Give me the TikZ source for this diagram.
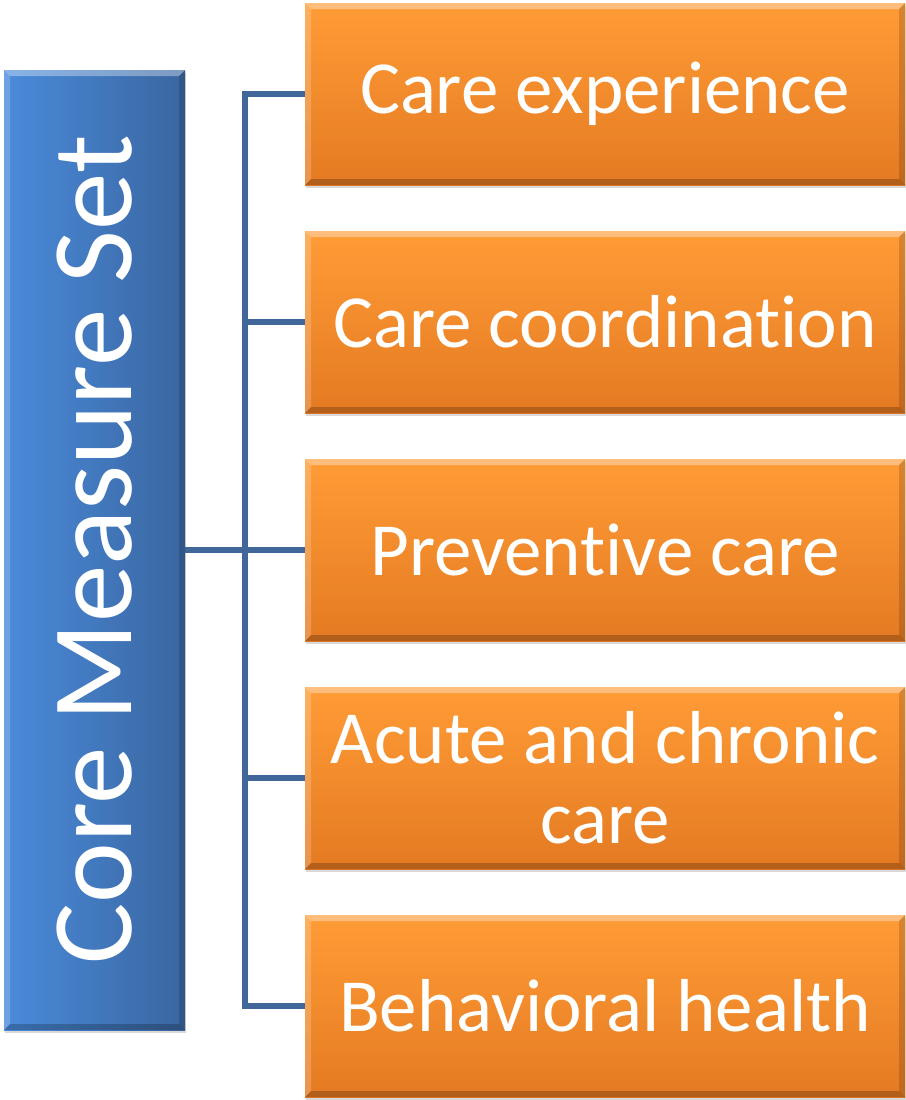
\documentclass[tikz,border=0pt]{standalone}
\usepackage{fontspec}
\setmainfont{Carlito}[Ligatures={NoCommon}]
\usetikzlibrary{shadows}
\definecolor{orangetop}{HTML}{FF9C36}
\definecolor{orangebot}{HTML}{E47A22}
\definecolor{blueleft}{HTML}{4A8BDB}
\definecolor{blueright}{HTML}{3A66A0}
\definecolor{linkblue}{HTML}{41679A}
\tikzset{
  bevel/.style={path picture={
    \fill[white,opacity=0.35] (path picture bounding box.north west) -- (path picture bounding box.north east)
      -- ([xshift=-6pt,yshift=-6pt]path picture bounding box.north east) -- ([xshift=6pt,yshift=-6pt]path picture bounding box.north west) -- cycle;
    \fill[white,opacity=0.2] (path picture bounding box.north west) -- (path picture bounding box.south west)
      -- ([xshift=6pt,yshift=6pt]path picture bounding box.south west) -- ([xshift=6pt,yshift=-6pt]path picture bounding box.north west) -- cycle;
    \fill[black,opacity=0.15] (path picture bounding box.north east) -- (path picture bounding box.south east)
      -- ([xshift=-6pt,yshift=6pt]path picture bounding box.south east) -- ([xshift=-6pt,yshift=-6pt]path picture bounding box.north east) -- cycle;
    \fill[black,opacity=0.22] (path picture bounding box.south west) -- (path picture bounding box.south east)
      -- ([xshift=-6pt,yshift=6pt]path picture bounding box.south east) -- ([xshift=6pt,yshift=6pt]path picture bounding box.south west) -- cycle;
  }},
  item/.style={rectangle, minimum width=600pt, minimum height=182pt, inner sep=0pt,
    top color=orangetop, bottom color=orangebot, bevel, text=white, align=center,
    font=\fontsize{75}{80}\selectfont,
    drop shadow={opacity=0.3, shadow xshift=1pt, shadow yshift=-3pt}},
  core/.style={rectangle, minimum width=181pt, minimum height=960pt, inner sep=0pt,
    left color=blueleft, right color=blueright, bevel, text=white,
    font=\fontsize{115}{120}\selectfont,
    drop shadow={opacity=0.3, shadow xshift=1pt, shadow yshift=-3pt}},
  link/.style={draw=linkblue, line width=5.5pt}
}
\begin{document}
\begin{tikzpicture}[x=1pt,y=-1pt]
  \useasboundingbox (0,0) rectangle (905,1100);
  % left category box
  \node[core] (core) at (94.5,550) {\rotatebox{90}{Core Measure Set}};
  % the five measure boxes
  \node[item] (o1) at (605,94) {Care experience};
  \node[item] (o2) at (605,322) {Care coordination};
  \node[item] (o3) at (605,550) {Preventive care};
  \node[item] (o4) at (605,778) {Acute and chronic\\care};
  \node[item] (o5) at (605,1006) {Behavioral health};
  % connector tree with its trunk at x = 245
  \coordinate (jx) at (245,0);
  \draw[link] (o1.west) -| (jx |- o5.west) -- (o5.west);
  \draw[link] (jx |- o2.west) -- (o2.west);
  \draw[link] (core.east) -- (o3.west);
  \draw[link] (jx |- o4.west) -- (o4.west);
\end{tikzpicture}
\end{document}
